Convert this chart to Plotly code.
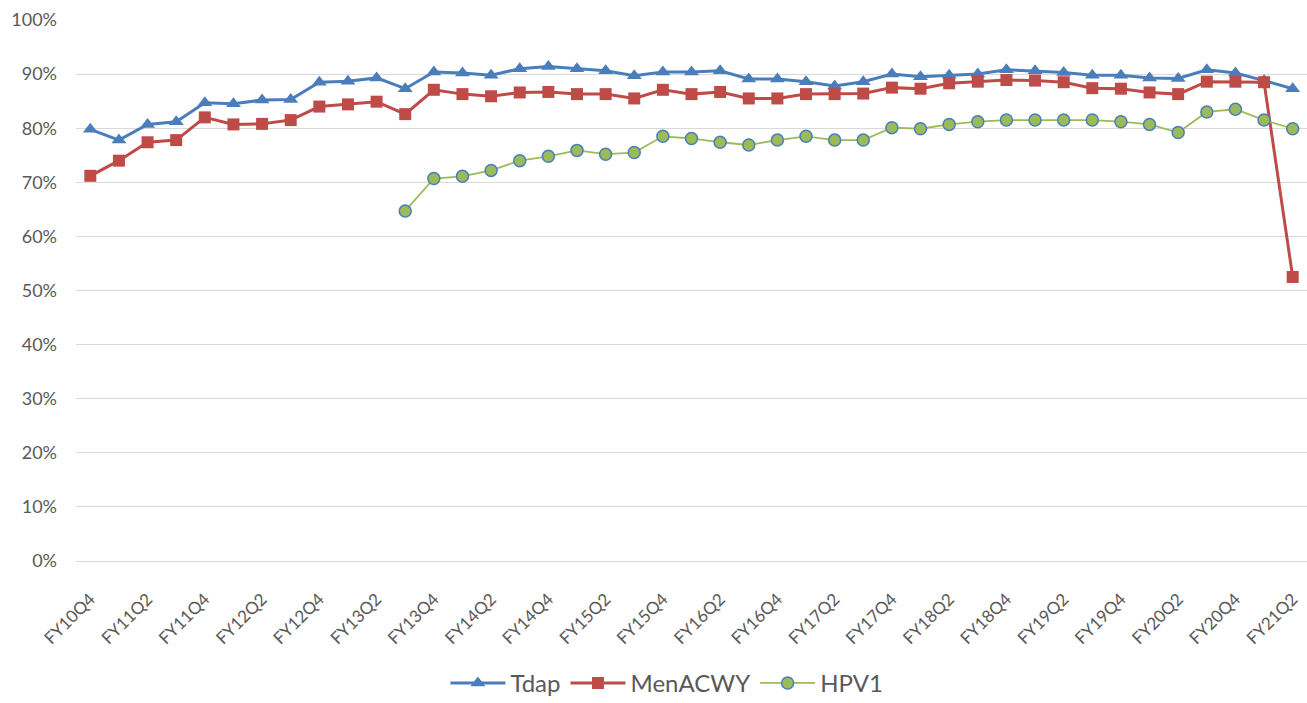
import plotly.graph_objects as go

quarters = [
    "FY10Q4",
    "FY11Q1", "FY11Q2", "FY11Q3", "FY11Q4",
    "FY12Q1", "FY12Q2", "FY12Q3", "FY12Q4",
    "FY13Q1", "FY13Q2", "FY13Q3", "FY13Q4",
    "FY14Q1", "FY14Q2", "FY14Q3", "FY14Q4",
    "FY15Q1", "FY15Q2", "FY15Q3", "FY15Q4",
    "FY16Q1", "FY16Q2", "FY16Q3", "FY16Q4",
    "FY17Q1", "FY17Q2", "FY17Q3", "FY17Q4",
    "FY18Q1", "FY18Q2", "FY18Q3", "FY18Q4",
    "FY19Q1", "FY19Q2", "FY19Q3", "FY19Q4",
    "FY20Q1", "FY20Q2", "FY20Q3", "FY20Q4",
    "FY21Q1", "FY21Q2",
]

tdap = [79.8, 77.8, 80.7, 81.2, 84.7, 84.5, 85.2, 85.3, 88.5, 88.7,
        89.3, 87.3, 90.4, 90.2, 89.8, 91.0, 91.4, 91.0, 90.6, 89.7,
        90.4, 90.4, 90.6, 89.1, 89.1, 88.6, 87.8, 88.6, 90.0, 89.5,
        89.8, 90.0, 90.8, 90.6, 90.3, 89.8, 89.8, 89.3, 89.2, 90.8,
        90.2, 88.8, 87.3]

menacwy = [71.2, 74.0, 77.4, 77.8, 82.0, 80.7, 80.8, 81.5, 84.0, 84.4,
           84.9, 82.6, 87.1, 86.3, 85.9, 86.6, 86.7, 86.3, 86.3, 85.5,
           87.1, 86.3, 86.7, 85.5, 85.5, 86.3, 86.3, 86.4, 87.5, 87.3,
           88.3, 88.6, 88.9, 88.8, 88.5, 87.4, 87.3, 86.6, 86.3, 88.6,
           88.6, 88.5, 52.5]

hpv1 = [None] * 11 + [64.7, 70.7, 71.1, 72.2, 74.0, 74.8, 75.9, 75.2, 75.5,
                      78.5, 78.1, 77.4, 76.9, 77.8, 78.5, 77.8, 77.8, 80.1,
                      79.9, 80.7, 81.2, 81.5, 81.5, 81.5, 81.5, 81.2, 80.7,
                      79.2, 83.0, 83.5, 81.5, 79.9]

y_ticks = [0, 10, 20, 30, 40, 50, 60, 70, 80, 90, 100]
y_tick_text = ["0%", "10%", "20%", "30%", "40%", "50%",
               "60%", "70%", "80%", "90%", "100%"]
x_tick_labels = quarters[::2]

BLUE = "#4A7EBB"
RED = "#BE4B48"
GREEN = "#9BBB59"
TEXT = "#595959"
GRID = "#D9D9D9"
FONT = "Lato, 'Open Sans', sans-serif"

fig = go.Figure()
fig.add_trace(go.Scatter(
    x=quarters, y=tdap, name="Tdap", mode="lines+markers",
    line=dict(color=BLUE, width=3),
    marker=dict(symbol="triangle-up", size=13, color=BLUE),
))
fig.add_trace(go.Scatter(
    x=quarters, y=menacwy, name="MenACWY", mode="lines+markers",
    line=dict(color=RED, width=3),
    marker=dict(symbol="square", size=12, color=RED),
))
fig.add_trace(go.Scatter(
    x=quarters, y=hpv1, name="HPV1", mode="lines+markers",
    line=dict(color=GREEN, width=1.8),
    marker=dict(symbol="circle", size=12, color=GREEN,
                line=dict(color=BLUE, width=1.5)),
))

fig.update_layout(
    width=1307, height=703,
    margin=dict(l=76, r=0, t=20, b=142),
    paper_bgcolor="white", plot_bgcolor="white",
    font=dict(family=FONT, color=TEXT),
    showlegend=True,
    legend=dict(
        orientation="h", x=0.48, xanchor="center",
        yref="container", y=0.028, yanchor="middle",
        font=dict(size=24, color=TEXT, family=FONT),
        itemwidth=55, traceorder="normal",
    ),
    xaxis=dict(
        type="category", categoryorder="array", categoryarray=quarters,
        range=[-0.5, len(quarters) - 0.5], automargin=False,
        tickmode="array", tickvals=x_tick_labels, ticktext=x_tick_labels,
        tickangle=-45, tickfont=dict(size=17, color=TEXT, family=FONT),
        showgrid=False, showline=False, zeroline=False, ticks="",
        ticklabelstandoff=24,
    ),
    yaxis=dict(
        range=[0, 100], tickmode="array", tickvals=y_ticks,
        ticktext=y_tick_text, automargin=False,
        tickfont=dict(size=18, color=TEXT, family=FONT),
        showgrid=True, gridcolor=GRID, gridwidth=1,
        zeroline=True, zerolinecolor=GRID, zerolinewidth=1,
        showline=False, ticks="", ticklabelstandoff=18,
    ),
)

fig.write_html(
    "out.html",
    config={"displayModeBar": False},
    post_script="document.body.style.margin='0px';"
                "document.body.style.overflow='hidden';",
)
